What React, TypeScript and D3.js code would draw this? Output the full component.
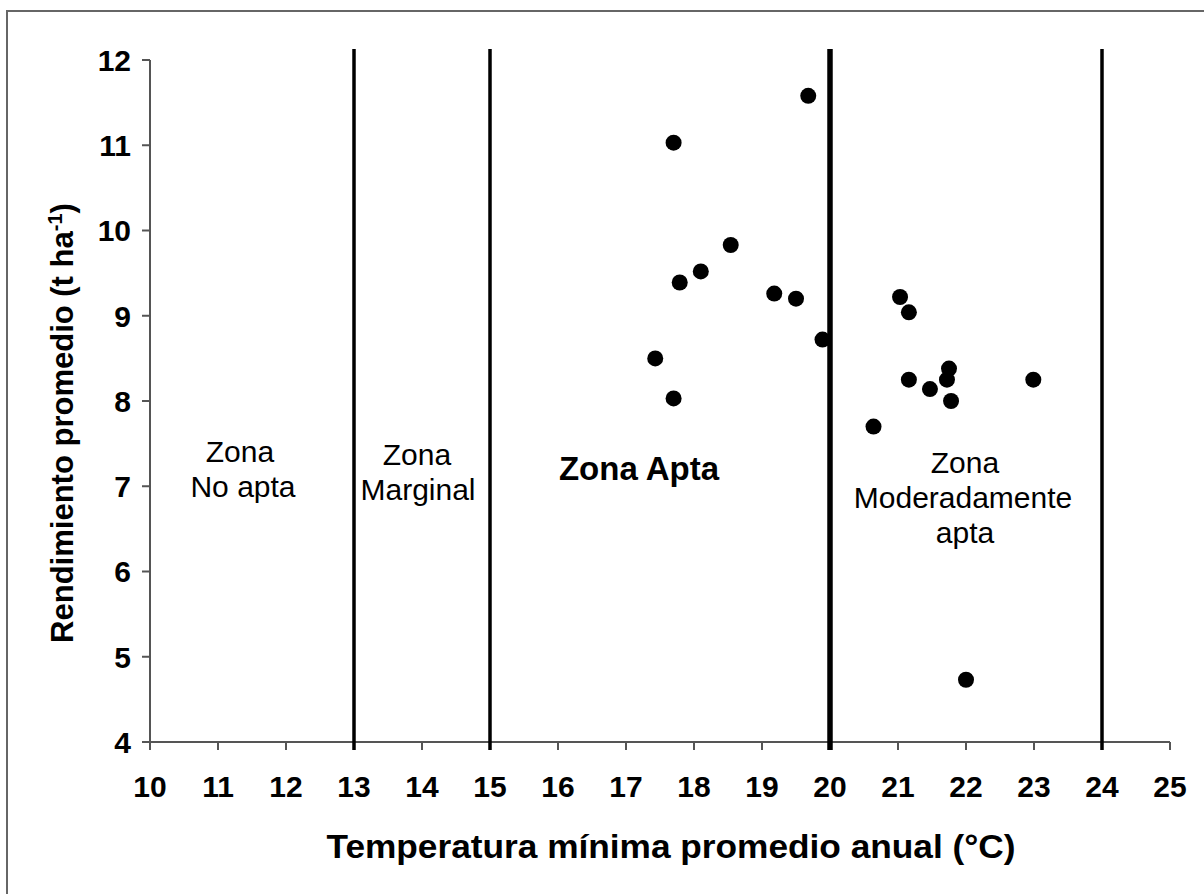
import React from "react";
import * as d3 from "d3";

const temperatura = [19.68, 17.7, 18.54, 18.1, 17.79, 19.18, 19.5, 19.89, 17.43, 17.7, 21.03, 21.16, 21.75, 21.16, 21.72, 21.47, 21.78, 22.99, 20.64, 22.0];
const rendimiento = [11.58, 11.03, 9.83, 9.52, 9.39, 9.26, 9.2, 8.72, 8.5, 8.03, 9.22, 9.04, 8.38, 8.25, 8.25, 8.14, 8.0, 8.25, 7.7, 4.73];

const limitesZona = [13, 15, 20, 24];
const grosorLimite = [3.5, 3.5, 5.5, 3.5];

const xTicks = d3.range(10, 26, 1);
const yTicks = d3.range(4, 13, 1);

const W = 1204;
const H = 894;
const FONT = "'Liberation Sans', Arial, Helvetica, sans-serif";

export default function App() {
  const x = d3.scaleLinear().domain([10, 25]).range([150, 1170]);
  const y = d3.scaleLinear().domain([4, 12]).range([742, 60]);
  const axisColor = "#555";

  return (
    <svg
      width={W}
      height={H}
      style={{ position: "absolute", left: 0, top: 0, background: "#fff" }}
      fontFamily={FONT}
    >
      <rect x={0} y={0} width={W} height={H} fill="#fff" />
      <rect x={7} y={11} width={W + 20} height={H + 20} fill="none" stroke="#666" strokeWidth={2} />

      {/* axes */}
      <line x1={x(10)} x2={x(10)} y1={y(12)} y2={y(4)} stroke={axisColor} strokeWidth={2} />
      <line x1={x(10)} x2={x(25)} y1={y(4)} y2={y(4)} stroke={axisColor} strokeWidth={2} />
      {yTicks.map((t) => (
        <g key={"y" + t}>
          <line x1={x(10) - 8} x2={x(10)} y1={y(t)} y2={y(t)} stroke={axisColor} strokeWidth={2} />
          <text
            x={131}
            y={y(t)}
            dy="0.36em"
            textAnchor="end"
            fontSize={30}
            fontWeight="bold"
            fill="#000"
          >
            {t}
          </text>
        </g>
      ))}
      {xTicks.map((t) => (
        <g key={"x" + t}>
          <line x1={x(t)} x2={x(t)} y1={y(4)} y2={y(4) + 8} stroke={axisColor} strokeWidth={2} />
          <text x={x(t)} y={797} textAnchor="middle" fontSize={30} fontWeight="bold" fill="#000">
            {t}
          </text>
        </g>
      ))}

      {/* zone limits */}
      {limitesZona.map((z, i) => (
        <line
          key={"z" + z}
          x1={x(z)}
          x2={x(z)}
          y1={y(12.13)}
          y2={y(3.906)}
          stroke="#000"
          strokeWidth={grosorLimite[i]}
        />
      ))}

      {/* points */}
      {temperatura.map((t, i) => (
        <circle key={"p" + i} cx={x(t)} cy={y(rendimiento[i])} r={8} fill="#000" />
      ))}

      {/* zone labels */}
      <g fontSize={30} fill="#000" textAnchor="middle">
        <text x={240} y={462}>Zona</text>
        <text x={243} y={497}>No apta</text>
        <text x={417} y={465}>Zona</text>
        <text x={418} y={500}>Marginal</text>
        <text x={965} y={473}>Zona</text>
        <text x={963} y={508}>Moderadamente</text>
        <text x={965} y={543}>apta</text>
      </g>
      <text x={639} y={480} textAnchor="middle" fontSize={33} fontWeight="bold" fill="#000">
        Zona Apta
      </text>

      {/* axis titles */}
      <text
        x={671}
        y={858}
        textAnchor="middle"
        fontSize={33}
        fontWeight="bold"
        fill="#000"
        textLength={689}
        lengthAdjust="spacingAndGlyphs"
      >
        Temperatura mínima promedio anual (°C)
      </text>
      <text
        transform={`translate(73, 423) rotate(-90)`}
        textAnchor="middle"
        fontSize={31}
        fontWeight="bold"
        fill="#000"
      >
        Rendimiento promedio (t ha
        <tspan dy={-11} fontSize={20}>-1</tspan>
        <tspan dy={11}>)</tspan>
      </text>
    </svg>
  );
}
